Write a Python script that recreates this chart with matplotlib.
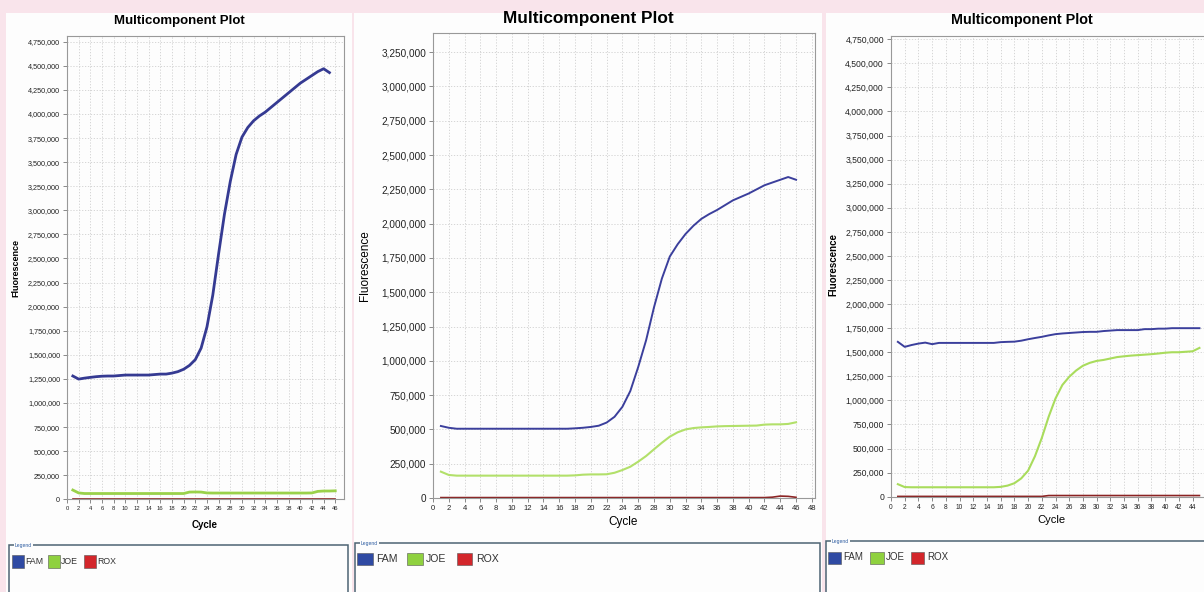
import matplotlib
matplotlib.use("Agg")
import matplotlib.pyplot as plt
from matplotlib.patches import Rectangle
from matplotlib.ticker import FuncFormatter, MultipleLocator

plt.rcParams['font.family'] = ['Liberation Sans', 'DejaVu Sans']

# ---- data (fluorescence per cycle) ----
cycles_a_fam = list(range(1, 46))
fam_a = [1.280e6, 1.248e6, 1.258e6, 1.266e6, 1.273e6, 1.278e6, 1.280e6, 1.280e6, 1.285e6, 1.290e6,
         1.290e6, 1.290e6, 1.290e6, 1.290e6, 1.295e6, 1.300e6, 1.300e6, 1.310e6, 1.325e6, 1.350e6,
         1.390e6, 1.450e6, 1.570e6, 1.790e6, 2.120e6, 2.550e6, 2.960e6, 3.300e6, 3.580e6, 3.760e6,
         3.860e6, 3.930e6, 3.980e6, 4.020e6, 4.070e6, 4.120e6, 4.170e6, 4.220e6, 4.270e6, 4.320e6,
         4.360e6, 4.400e6, 4.440e6, 4.470e6, 4.430e6]
cycles_a = list(range(1, 47))
joe_a = [96e3, 66e3, 60e3, 60e3, 60e3, 60e3, 60e3, 60e3, 60e3, 60e3,
         60e3, 60e3, 60e3, 60e3, 60e3, 60e3, 60e3, 60e3, 60e3, 60e3,
         75e3, 76e3, 75e3, 66e3, 65e3, 65e3, 65e3, 65e3, 65e3, 65e3,
         65e3, 65e3, 65e3, 65e3, 65e3, 65e3, 65e3, 65e3, 65e3, 65e3,
         65e3, 66e3, 82e3, 86e3, 86e3, 88e3]
rox_a = [3e3] * 46

cycles_b = list(range(1, 47))
fam_b = [525e3, 512e3, 505e3, 505e3, 505e3, 505e3, 505e3, 505e3, 505e3, 505e3,
         505e3, 505e3, 505e3, 505e3, 505e3, 505e3, 505e3, 508e3, 512e3, 518e3,
         527e3, 550e3, 592e3, 665e3, 780e3, 955e3, 1.150e6, 1.390e6, 1.600e6, 1.760e6,
         1.850e6, 1.925e6, 1.985e6, 2.035e6, 2.070e6, 2.100e6, 2.135e6, 2.170e6, 2.195e6, 2.220e6,
         2.250e6, 2.280e6, 2.300e6, 2.320e6, 2.340e6, 2.320e6]
joe_b = [192e3, 168e3, 163e3, 163e3, 163e3, 163e3, 163e3, 163e3, 163e3, 163e3,
         163e3, 163e3, 163e3, 163e3, 163e3, 163e3, 163e3, 165e3, 170e3, 172e3,
         172e3, 173e3, 184e3, 204e3, 228e3, 265e3, 306e3, 355e3, 403e3, 447e3,
         479e3, 500e3, 510e3, 515e3, 518e3, 522e3, 524e3, 525e3, 526e3, 527e3,
         528e3, 535e3, 537e3, 537e3, 540e3, 552e3]
rox_b = [3e3, 3e3, 3e3, 3e3, 3e3, 3e3, 3e3, 3e3, 3e3, 3e3,
         3e3, 3e3, 3e3, 3e3, 3e3, 3e3, 3e3, 3e3, 3e3, 3e3,
         3e3, 3e3, 3e3, 3e3, 3e3, 3e3, 3e3, 3e3, 3e3, 3e3,
         3e3, 3e3, 3e3, 3e3, 3e3, 3e3, 3e3, 3e3, 3e3, 3e3,
         3e3, 3e3, 6e3, 14e3, 12e3, 5e3]

cycles_c = list(range(1, 46))
fam_c = [1.608e6, 1.556e6, 1.575e6, 1.590e6, 1.600e6, 1.584e6, 1.597e6, 1.597e6, 1.597e6, 1.597e6,
         1.597e6, 1.597e6, 1.597e6, 1.597e6, 1.597e6, 1.605e6, 1.608e6, 1.610e6, 1.620e6, 1.635e6,
         1.648e6, 1.660e6, 1.675e6, 1.688e6, 1.695e6, 1.700e6, 1.705e6, 1.710e6, 1.712e6, 1.712e6,
         1.720e6, 1.725e6, 1.730e6, 1.730e6, 1.730e6, 1.730e6, 1.740e6, 1.740e6, 1.745e6, 1.745e6,
         1.750e6, 1.750e6, 1.750e6, 1.750e6, 1.750e6]
joe_c = [130e3, 100e3, 98e3, 98e3, 98e3, 98e3, 98e3, 98e3, 98e3, 98e3,
         98e3, 98e3, 98e3, 98e3, 98e3, 102e3, 115e3, 140e3, 190e3, 270e3,
         420e3, 610e3, 830e3, 1.020e6, 1.160e6, 1.245e6, 1.310e6, 1.360e6, 1.390e6, 1.410e6,
         1.420e6, 1.435e6, 1.450e6, 1.458e6, 1.465e6, 1.470e6, 1.475e6, 1.480e6, 1.487e6, 1.495e6,
         1.500e6, 1.500e6, 1.505e6, 1.510e6, 1.545e6]
rox_c = [3e3, 3e3, 3e3, 3e3, 3e3, 3e3, 3e3, 3e3, 3e3, 3e3,
         3e3, 3e3, 3e3, 3e3, 3e3, 3e3, 3e3, 3e3, 3e3, 3e3,
         3e3, 3e3, 12e3, 12e3, 12e3, 12e3, 12e3, 12e3, 12e3, 12e3,
         12e3, 12e3, 12e3, 12e3, 12e3, 12e3, 12e3, 12e3, 12e3, 12e3,
         12e3, 12e3, 12e3, 12e3, 12e3]

legend_names = ['FAM', 'JOE', 'ROX']
legend_colors = ['#2f4aa3', '#8fd13f', '#d3262b']

W, H = 1204, 592
fig = plt.figure(figsize=(W / 100, H / 100), dpi=100)
fig.patch.set_facecolor('#f9e4eb')


def fx(x):
    return x / W


def fy(y):
    return 1 - y / H


def panel_bg(x0, x1):
    fig.add_artist(Rectangle((fx(x0), 0), fx(x1 - x0), fy(13), transform=fig.transFigure,
                             fc='#fdfdfd', ec='none', zorder=-5))


panel_bg(6, 352)
panel_bg(354, 822)
panel_bg(826, 1210)

comma = FuncFormatter(lambda v, p: '{:,.0f}'.format(v))


def setup_axes(box, xlim, ylim, xmax_tick, tick_fs, xtick_fs, label_max=None):
    x0, y_top, x1, y_bot = box
    ax = fig.add_axes([fx(x0), fy(y_bot), fx(x1 - x0), (y_bot - y_top) / H])
    ax.set_facecolor('#fdfdfd')
    ax.set_xlim(*xlim)
    ax.set_ylim(*ylim)
    ticks = list(range(0, xmax_tick + 1, 2))
    ax.set_xticks(ticks)
    if label_max is not None:
        ax.set_xticklabels([str(t) if t <= label_max else '' for t in ticks])
    ax.yaxis.set_major_locator(MultipleLocator(250000))
    ax.yaxis.set_major_formatter(comma)
    ax.tick_params(axis='y', labelsize=tick_fs, length=3, width=0.6, color='#777777',
                   labelcolor='#222222', pad=2)
    ax.tick_params(axis='x', labelsize=xtick_fs, length=3, width=0.6, color='#777777',
                   labelcolor='#222222', pad=2)
    ax.grid(True, color='#cfcfcf', linestyle=(0, (1.5, 2)), linewidth=0.6)
    for s in ax.spines.values():
        s.set_color('#999999')
        s.set_linewidth(0.8)
    return ax


# panel 1
ax1 = setup_axes((67, 36, 344, 499.3), (0, 47.5), (0, 4.81e6), 46, 5.2, 4.2)
ax1.plot(cycles_a, rox_a, color='#8b2323', lw=1.2)
ax1.plot(cycles_a, joe_a, color='#9ad14a', lw=2.0)
ax1.plot(cycles_a_fam, fam_a, color='#353a92', lw=2.0)
ax1.set_xlabel('Cycle', fontsize=7, fontweight='bold')
ax1.set_ylabel('Fluorescence', fontsize=6.5, fontweight='bold')
ax1.yaxis.set_label_coords(fx(20.5), fy(268), transform=fig.transFigure)
ax1.xaxis.set_label_coords(fx(205), fy(520), transform=fig.transFigure)
fig.text(fx(179), fy(21), 'Multicomponent Plot', fontsize=9.5, fontweight='bold',
         ha='center', va='center')

# panel 2
ax2 = setup_axes((433, 33, 815, 498), (0, 48.4), (0, 3.39e6), 48, 7.2, 5.5)
ax2.plot(cycles_b, rox_b, color='#8b2323', lw=1.2)
ax2.plot(cycles_b, joe_b, color='#b2e06a', lw=1.5)
ax2.plot(cycles_b, fam_b, color='#3b3f9c', lw=1.4)
ax2.set_xlabel('Cycle', fontsize=8.5)
ax2.set_ylabel('Fluorescence', fontsize=8.5)
ax2.yaxis.set_label_coords(fx(371), fy(266), transform=fig.transFigure)
ax2.xaxis.set_label_coords(fx(623), fy(516), transform=fig.transFigure)
fig.text(fx(588), fy(19), 'Multicomponent Plot', fontsize=12.4, fontweight='bold',
         ha='center', va='center')

# panel 3 (cut off at the right edge)
ax3 = setup_axes((891, 36, 1220, 496.7), (0, 48), (0, 4.784e6), 48, 6.2, 4.8, label_max=44)
ax3.plot(cycles_c, rox_c, color='#8b2323', lw=1.2)
ax3.plot(cycles_c, joe_c, color='#a9dc5c', lw=1.5)
ax3.plot(cycles_c, fam_c, color='#3b3f9c', lw=1.4)
ax3.set_xlabel('Cycle', fontsize=8)
ax3.set_ylabel('Fluorescence', fontsize=7, fontweight='bold')
ax3.yaxis.set_label_coords(fx(838), fy(265), transform=fig.transFigure)
ax3.xaxis.set_label_coords(fx(1051), fy(515), transform=fig.transFigure)
fig.text(fx(1022), fy(20), 'Multicomponent Plot', fontsize=10.4, fontweight='bold',
         ha='center', va='center')


# legend boxes under each panel
def legend_box(x0, x1, y_top, squares, texts, y0, y1, fs):
    fig.add_artist(Rectangle((fx(x0), fy(600)), fx(x1 - x0), (600 - y_top) / H,
                             transform=fig.transFigure, fill=False, ec='#4d6473', lw=1.1))
    fig.text(fx(x0 + 6), fy(y_top), 'Legend', fontsize=3.6, color='#2a5aa0', va='center',
             bbox=dict(fc='#fdfdfd', ec='none', pad=0.5))
    for (sx0, sx1), tx, name, col in zip(squares, texts, legend_names, legend_colors):
        fig.add_artist(Rectangle((fx(sx0), fy(y1)), fx(sx1 - sx0), (y1 - y0) / H,
                                 transform=fig.transFigure, fc=col, ec='#555555', lw=0.4))
        fig.text(fx(tx), fy((y0 + y1) / 2), name, fontsize=fs, color='#333333', va='center')


legend_box(9, 348, 545, [(11.7, 23.5), (48, 59.5), (84, 95.5)], [25.5, 61, 97.5], 555, 568, 6.3)
legend_box(355, 820, 543, [(357, 372.5), (407, 422.5), (456.5, 472)], [376, 426, 476], 552.5, 564.5, 7.6)
legend_box(826, 1230, 541, [(827.5, 841), (870, 883.5), (911.5, 924.5)], [843.5, 885.5, 927.5], 551.5, 563.5, 7.0)

fig.savefig('out.png', dpi=100, facecolor=fig.get_facecolor())
